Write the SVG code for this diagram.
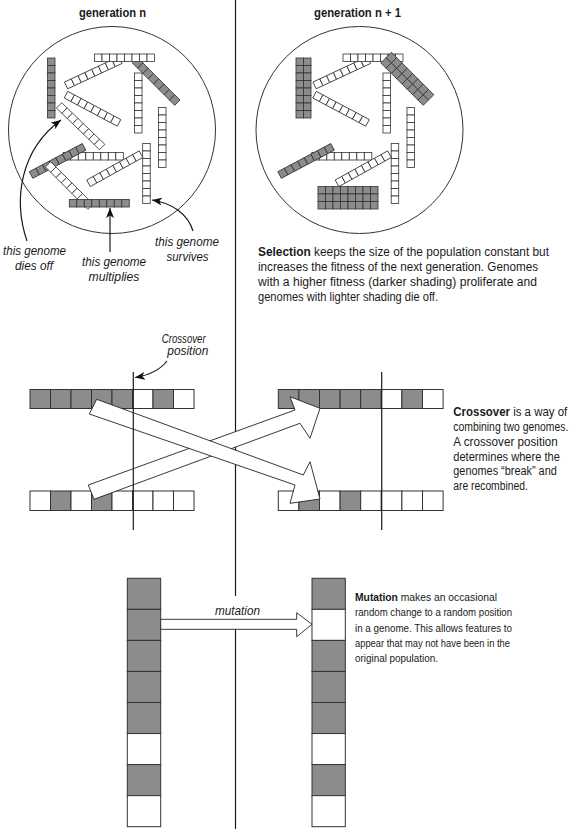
<svg xmlns="http://www.w3.org/2000/svg" xmlns:xlink="http://www.w3.org/1999/xlink" width="587" height="829" viewBox="0 0 587 829">
<style>
.cw{fill:#fff;stroke:#333;stroke-width:0.8}
.cg{fill:#8c8c8c;stroke:#333;stroke-width:0.8}
.bw{fill:#fff;stroke:#333;stroke-width:1}
.bg{fill:#8c8c8c;stroke:#333;stroke-width:1}
.pop{fill:none;stroke:#333;stroke-width:1}
.ln{fill:none;stroke:#1a1a1a;stroke-width:1.2}
.ptr{fill:none;stroke:#1a1a1a;stroke-width:1.2}
.blk{fill:#fff;stroke:#222;stroke-width:0.9}
text{font-family:"Liberation Sans",Arial,sans-serif;fill:#1a1a1a}
.hd{font-weight:bold;font-size:12.5px;text-anchor:middle}
.it{font-style:italic;font-size:12.5px;text-anchor:middle}
.bd{font-size:12px}
.bm{font-size:11px}
.b{font-weight:bold}
</style>
<defs>
<g id="w8"><rect class="cw" x="0" y="0" width="7.5" height="7.5"/><rect class="cw" x="7.5" y="0" width="7.5" height="7.5"/><rect class="cw" x="15" y="0" width="7.5" height="7.5"/><rect class="cw" x="22.5" y="0" width="7.5" height="7.5"/><rect class="cw" x="30" y="0" width="7.5" height="7.5"/><rect class="cw" x="37.5" y="0" width="7.5" height="7.5"/><rect class="cw" x="45" y="0" width="7.5" height="7.5"/><rect class="cw" x="52.5" y="0" width="7.5" height="7.5"/></g>
<g id="g8"><rect class="cg" x="0" y="0" width="7.5" height="7.5"/><rect class="cg" x="7.5" y="0" width="7.5" height="7.5"/><rect class="cg" x="15" y="0" width="7.5" height="7.5"/><rect class="cg" x="22.5" y="0" width="7.5" height="7.5"/><rect class="cg" x="30" y="0" width="7.5" height="7.5"/><rect class="cg" x="37.5" y="0" width="7.5" height="7.5"/><rect class="cg" x="45" y="0" width="7.5" height="7.5"/><rect class="cg" x="52.5" y="0" width="7.5" height="7.5"/></g>
<marker id="ah" viewBox="0 0 10 8" refX="10" refY="4" markerWidth="10" markerHeight="8" markerUnits="userSpaceOnUse" orient="auto"><path d="M0,0 L10,4 L0,8 L2.5,4 z" fill="#111"/></marker>
</defs>

<rect x="0" y="0" width="587" height="829" fill="#fff"/>
<line id="divider" class="ln" x1="235.5" y1="0" x2="235.5" y2="829"/>

<text class="hd" x="112.5" y="17" textLength="67" lengthAdjust="spacingAndGlyphs">generation n</text>
<text class="hd" x="357.5" y="17" textLength="87" lengthAdjust="spacingAndGlyphs">generation n + 1</text>

<g id="population-n">
<circle class="pop" cx="112" cy="130" r="103.5"/>
<use href="#g8" transform="translate(55,58) rotate(90)"/>
<use href="#w8" transform="translate(64.5,82) rotate(-25)"/>
<use href="#w8" transform="translate(67.8,91.4) rotate(28)"/>
<use href="#w8" transform="translate(61.7,102.7) rotate(44)"/>
<use href="#g8" transform="translate(137.6,57.6) rotate(45)"/>
<use href="#w8" transform="translate(94.5,54)"/>
<use href="#w8" transform="translate(142,73) rotate(90)"/>
<use href="#w8" transform="translate(166,107.5) rotate(90)"/>
<use href="#w8" transform="translate(150.2,143.5) rotate(90)"/>
<use href="#w8" transform="translate(63.3,152.5)"/>
<use href="#g8" transform="translate(29.3,171.7) rotate(-28)"/>
<use href="#w8" transform="translate(50.7,161.7) rotate(45)"/>
<use href="#w8" transform="translate(86.7,180) rotate(-29)"/>
<use href="#g8" transform="translate(69.3,199.5)"/>
</g>

<g id="population-n1">
<circle class="pop" cx="359.5" cy="130" r="103.5"/>
<use href="#g8" transform="translate(303.5,58) rotate(90)"/>
<use href="#g8" transform="translate(311,58) rotate(90)"/>
<use href="#w8" transform="translate(313,82) rotate(-25)"/>
<use href="#w8" transform="translate(316.3,91.4) rotate(28)"/>
<use href="#w8" transform="translate(343,54)"/>
<use href="#g8" transform="translate(386.1,57.6) rotate(45)"/>
<use href="#g8" transform="translate(391.4,52.3) rotate(45)"/>
<use href="#w8" transform="translate(390.5,73) rotate(90)"/>
<use href="#w8" transform="translate(414.5,107.5) rotate(90)"/>
<use href="#w8" transform="translate(398.7,143.5) rotate(90)"/>
<use href="#w8" transform="translate(311.8,152.5)"/>
<use href="#g8" transform="translate(277.8,171.7) rotate(-28)"/>
<use href="#w8" transform="translate(335.2,180) rotate(-29)"/>
<use href="#g8" transform="translate(318,186.5)"/>
<use href="#g8" transform="translate(318,194)"/>
<use href="#g8" transform="translate(318,201.5)"/>
</g>

<g id="connectors">
<path class="ptr" d="M27,241 C13,200 20,150 61,120" marker-end="url(#ah)"/>
<path class="ptr" d="M110,252 L110,208" marker-end="url(#ah)"/>
<path class="ptr" d="M193,231 C188,214 172,203 152,200" marker-end="url(#ah)"/>
<path class="ptr" d="M167,361 C160,370 150,375 135,377.5" marker-end="url(#ah)"/>
</g>

<g id="label-dies-off">
<text class="it" x="34.5" y="255" textLength="63" lengthAdjust="spacingAndGlyphs">this genome</text>
<text class="it" x="34" y="270" textLength="38" lengthAdjust="spacingAndGlyphs">dies off</text>
</g>
<g id="label-multiplies">
<text class="it" x="114" y="266" textLength="64" lengthAdjust="spacingAndGlyphs">this genome</text>
<text class="it" x="114" y="281" textLength="51" lengthAdjust="spacingAndGlyphs">multiplies</text>
</g>
<g id="label-survives">
<text class="it" x="187" y="246" textLength="64" lengthAdjust="spacingAndGlyphs">this genome</text>
<text class="it" x="187.5" y="261" textLength="42" lengthAdjust="spacingAndGlyphs">survives</text>
</g>

<g id="selection-text">
<text class="bd" x="258" y="256" textLength="291" lengthAdjust="spacingAndGlyphs"><tspan class="b">Selection</tspan> keeps the size of the population constant but</text>
<text class="bd" x="258" y="271" textLength="280" lengthAdjust="spacingAndGlyphs">increases the fitness of the next generation. Genomes</text>
<text class="bd" x="258" y="286" textLength="279" lengthAdjust="spacingAndGlyphs">with a higher fitness (darker shading) proliferate and</text>
<text class="bd" x="258" y="301" textLength="180" lengthAdjust="spacingAndGlyphs">genomes with lighter shading die off.</text>
</g>

<g id="crossover-label">
<text class="it" x="183.7" y="342.5" textLength="44" lengthAdjust="spacingAndGlyphs">Crossover</text>
<text class="it" x="187.8" y="355" textLength="41" lengthAdjust="spacingAndGlyphs">position</text>
</g>

<g id="xo-left-top">
<rect class="bg" x="30" y="389.5" width="20.5" height="19"/><rect class="bg" x="50.5" y="389.5" width="20.5" height="19"/><rect class="bg" x="71" y="389.5" width="20.5" height="19"/><rect class="bg" x="91.5" y="389.5" width="20.5" height="19"/><rect class="bg" x="112" y="389.5" width="20.5" height="19"/><rect class="bw" x="132.5" y="389.5" width="20.5" height="19"/><rect class="bg" x="153" y="389.5" width="20.5" height="19"/><rect class="bw" x="173.5" y="389.5" width="20.5" height="19"/>
</g>
<g id="xo-left-bottom">
<rect class="bw" x="30" y="491" width="20.5" height="19.5"/><rect class="bg" x="50.5" y="491" width="20.5" height="19.5"/><rect class="bw" x="71" y="491" width="20.5" height="19.5"/><rect class="bg" x="91.5" y="491" width="20.5" height="19.5"/><rect class="bw" x="112" y="491" width="20.5" height="19.5"/><rect class="bw" x="132.5" y="491" width="20.5" height="19.5"/><rect class="bw" x="153" y="491" width="20.5" height="19.5"/><rect class="bw" x="173.5" y="491" width="20.5" height="19.5"/>
</g>
<g id="xo-right-top">
<rect class="bg" x="278.3" y="389.5" width="20.6" height="19"/><rect class="bg" x="298.9" y="389.5" width="20.6" height="19"/><rect class="bg" x="319.5" y="389.5" width="20.6" height="19"/><rect class="bg" x="340.1" y="389.5" width="20.6" height="19"/><rect class="bg" x="360.7" y="389.5" width="20.6" height="19"/><rect class="bw" x="381.3" y="389.5" width="20.6" height="19"/><rect class="bg" x="401.9" y="389.5" width="20.6" height="19"/><rect class="bw" x="422.5" y="389.5" width="20.6" height="19"/>
</g>
<g id="xo-right-bottom">
<rect class="bw" x="278.3" y="491" width="20.6" height="19.5"/><rect class="bg" x="298.9" y="491" width="20.6" height="19.5"/><rect class="bw" x="319.5" y="491" width="20.6" height="19.5"/><rect class="bg" x="340.1" y="491" width="20.6" height="19.5"/><rect class="bw" x="360.7" y="491" width="20.6" height="19.5"/><rect class="bw" x="381.3" y="491" width="20.6" height="19.5"/><rect class="bw" x="401.9" y="491" width="20.6" height="19.5"/><rect class="bw" x="422.5" y="491" width="20.6" height="19.5"/>
</g>

<g id="xo-arrows">
<polygon class="blk" points="88.3,485 295,410 290,396.7 320,408.3 310,438.3 300,423.3 94,499.3"/>
<polygon class="blk" points="96.7,399.3 303.3,475 310,461.7 320,499 290,503.3 295,485 89.3,414"/>
</g>
<line id="xo-line-left" class="ln" x1="133.3" y1="372" x2="133.3" y2="530"/>
<line id="xo-line-right" class="ln" x1="381.7" y1="372" x2="381.7" y2="530"/>

<g id="crossover-text">
<text class="bd" x="453.3" y="416" textLength="114" lengthAdjust="spacingAndGlyphs"><tspan class="b">Crossover</tspan> is a way of</text>
<text class="bd" x="453.3" y="431" textLength="115" lengthAdjust="spacingAndGlyphs">combining two genomes.</text>
<text class="bd" x="453.3" y="446" textLength="104.5" lengthAdjust="spacingAndGlyphs">A crossover position</text>
<text class="bd" x="453.3" y="460.5" textLength="106.5" lengthAdjust="spacingAndGlyphs">determines where the</text>
<text class="bd" x="453.3" y="475" textLength="103.5" lengthAdjust="spacingAndGlyphs">genomes “break” and</text>
<text class="bd" x="453.3" y="490" textLength="74.5" lengthAdjust="spacingAndGlyphs">are recombined.</text>
</g>

<g id="mutation-before">
<rect class="bg" x="127.3" y="578.3" width="33.4" height="31.05"/><rect class="bg" x="127.3" y="609.35" width="33.4" height="31.05"/><rect class="bg" x="127.3" y="640.4" width="33.4" height="31.05"/><rect class="bg" x="127.3" y="671.45" width="33.4" height="31.05"/><rect class="bg" x="127.3" y="702.5" width="33.4" height="31.05"/><rect class="bw" x="127.3" y="733.55" width="33.4" height="31.05"/><rect class="bg" x="127.3" y="764.6" width="33.4" height="31.05"/><rect class="bw" x="127.3" y="795.65" width="33.4" height="31.05"/>
</g>
<g id="mutation-after">
<rect class="bg" x="312" y="578.3" width="33.3" height="31.05"/><rect class="bw" x="312" y="609.35" width="33.3" height="31.05"/><rect class="bg" x="312" y="640.4" width="33.3" height="31.05"/><rect class="bg" x="312" y="671.45" width="33.3" height="31.05"/><rect class="bg" x="312" y="702.5" width="33.3" height="31.05"/><rect class="bw" x="312" y="733.55" width="33.3" height="31.05"/><rect class="bg" x="312" y="764.6" width="33.3" height="31.05"/><rect class="bw" x="312" y="795.65" width="33.3" height="31.05"/>
</g>
<g id="mutation-arrow">
<rect x="206" y="596" width="60" height="23" fill="#fff"/>
<polygon class="blk" points="160.7,619.3 296.7,619.3 296.7,612.7 312,624.3 296.7,636.7 296.7,629.3 160.7,629.3"/>
<text class="it" x="237.5" y="615" textLength="45" lengthAdjust="spacingAndGlyphs">mutation</text>
</g>

<g id="mutation-text">
<text class="bm" x="355" y="601" textLength="142" lengthAdjust="spacingAndGlyphs"><tspan class="b">Mutation</tspan> makes an occasional</text>
<text class="bm" x="355" y="616" textLength="157" lengthAdjust="spacingAndGlyphs">random change to a random position</text>
<text class="bm" x="355" y="631.5" textLength="157" lengthAdjust="spacingAndGlyphs">in a genome. This allows features to</text>
<text class="bm" x="355" y="646.5" textLength="155" lengthAdjust="spacingAndGlyphs">appear that may not have been in the</text>
<text class="bm" x="355" y="662" textLength="83" lengthAdjust="spacingAndGlyphs">original population.</text>
</g>
</svg>
